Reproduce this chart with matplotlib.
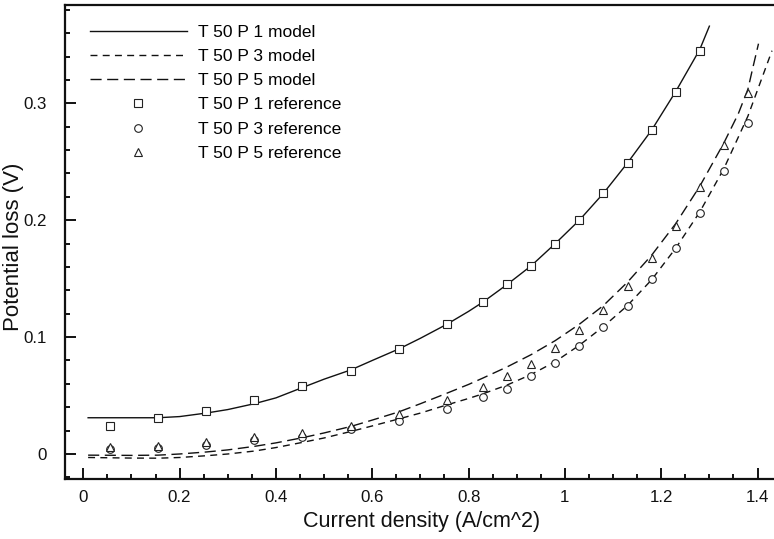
import matplotlib
matplotlib.use("Agg")
import matplotlib.pyplot as plt
from matplotlib.ticker import MultipleLocator, FixedLocator, FixedFormatter

plt.rcParams['font.family'] = ['Liberation Sans', 'DejaVu Sans']
plt.rcParams['lines.scale_dashes'] = False

# Reference measurements (current density in A/cm^2, potential loss in V)
x_ref = [0.055, 0.155, 0.255, 0.355, 0.455, 0.555, 0.655, 0.755, 0.83, 0.88,
         0.93, 0.98, 1.03, 1.08, 1.13, 1.18, 1.23, 1.28, 1.33, 1.38]
p1_ref = [0.024, 0.031, 0.037, 0.046, 0.058, 0.071, 0.090, 0.111, 0.130, 0.145,
          0.161, 0.180, 0.200, 0.223, 0.249, 0.277, 0.310, 0.345]
p3_ref = [0.004, 0.005, 0.008, 0.012, 0.0145, 0.021, 0.028, 0.0385, 0.049, 0.056,
          0.067, 0.078, 0.092, 0.109, 0.127, 0.150, 0.176, 0.206, 0.242, 0.283]
p5_ref = [0.006, 0.007, 0.010, 0.0145, 0.018, 0.024, 0.034, 0.046, 0.057, 0.067,
          0.077, 0.091, 0.106, 0.123, 0.144, 0.168, 0.195, 0.228, 0.264, 0.309]

# Model curves
p1_mod_x = [0.01, 0.1, 0.155, 0.2, 0.255, 0.3, 0.355, 0.4, 0.456, 0.5, 0.556, 0.6,
            0.656, 0.7, 0.755, 0.8, 0.83, 0.88, 0.93, 0.98, 1.03, 1.08, 1.13,
            1.18, 1.23, 1.28, 1.30]
p1_mod_y = [0.031, 0.031, 0.031, 0.032, 0.035, 0.038, 0.043, 0.048, 0.057, 0.064,
            0.072, 0.080, 0.090, 0.099, 0.111, 0.122, 0.130, 0.145, 0.161, 0.180,
            0.200, 0.223, 0.249, 0.277, 0.310, 0.346, 0.366]

p3_mod_x = [0.01, 0.1, 0.155, 0.2, 0.255, 0.3, 0.355, 0.4, 0.456, 0.5, 0.555, 0.6,
            0.655, 0.7, 0.755, 0.8, 0.83, 0.88, 0.93, 0.98, 1.03, 1.08, 1.13,
            1.18, 1.23, 1.28, 1.33, 1.38, 1.43]
p3_mod_y = [-0.003, -0.0035, -0.0036, -0.003, -0.0015, 0.0, 0.0025, 0.0055, 0.010,
            0.0137, 0.0192, 0.024, 0.030, 0.035, 0.042, 0.0475, 0.0515, 0.059, 0.068,
            0.079, 0.093, 0.109, 0.127, 0.149, 0.176, 0.207, 0.244, 0.289, 0.345]

p5_mod_x = [0.01, 0.1, 0.155, 0.2, 0.255, 0.3, 0.355, 0.4, 0.456, 0.5, 0.555, 0.6,
            0.655, 0.7, 0.755, 0.8, 0.83, 0.88, 0.93, 0.98, 1.03, 1.08, 1.13,
            1.18, 1.23, 1.28, 1.33, 1.36, 1.38, 1.39, 1.402]
p5_mod_y = [-0.001, -0.0012, -0.001, 0.0, 0.0017, 0.0035, 0.0065, 0.0095, 0.014,
            0.018, 0.0235, 0.029, 0.036, 0.043, 0.052, 0.0595, 0.065, 0.0745, 0.085,
            0.097, 0.111, 0.127, 0.147, 0.170, 0.197, 0.229, 0.266, 0.291, 0.312,
            0.330, 0.351]

x_ticks = [0, 0.2, 0.4, 0.6, 0.8, 1.0, 1.2, 1.4]
x_tick_labels = ["0", "0.2", "0.4", "0.6", "0.8", "1", "1.2", "1.4"]
y_ticks = [0, 0.1, 0.2, 0.3]
y_tick_labels = ["0", "0.1", "0.2", "0.3"]

fig = plt.figure(figsize=(7.74, 5.39), dpi=100)
ax = fig.add_axes([65 / 774, 60 / 539, 713 / 774, 474 / 539])

ink = "#111111"
ax.plot(p1_mod_x, p1_mod_y, color=ink, lw=1.0, ls="-", label="T 50 P 1 model")
ax.plot(p3_mod_x, p3_mod_y, color=ink, lw=1.0, dashes=(5.0, 3.8), label="T 50 P 3 model")
ax.plot(p5_mod_x, p5_mod_y, color=ink, lw=1.0, dashes=(8.0, 4.0), label="T 50 P 5 model")

mk = dict(ls="none", mfc="white", mec="#222222", mew=0.8)
ax.plot(x_ref[:len(p1_ref)], p1_ref, marker="s", ms=5.2, label="T 50 P 1 reference", **mk)
ax.plot(x_ref, p3_ref, marker="o", ms=5.5, label="T 50 P 3 reference", **mk)
ax.plot(x_ref, p5_ref, marker="^", ms=6.0, label="T 50 P 5 reference", **mk)

ax.set_xlim(-0.038, 1.4425)
ax.set_ylim(-0.0214, 0.3841)

ax.xaxis.set_major_locator(FixedLocator(x_ticks))
ax.xaxis.set_major_formatter(FixedFormatter(x_tick_labels))
ax.yaxis.set_major_locator(FixedLocator(y_ticks))
ax.yaxis.set_major_formatter(FixedFormatter(y_tick_labels))
ax.xaxis.set_minor_locator(MultipleLocator(0.05))
ax.yaxis.set_minor_locator(MultipleLocator(0.02))

ax.tick_params(which="both", direction="in", width=1.4, colors=ink)
ax.tick_params(which="major", length=8, labelsize=12.2)
ax.tick_params(which="minor", length=3.8)
ax.tick_params(axis="x", which="major", pad=8)
ax.tick_params(axis="y", which="major", pad=13)

for side in ("left", "bottom", "top"):
    ax.spines[side].set_linewidth(1.6)
    ax.spines[side].set_color(ink)
ax.spines["right"].set_visible(False)

ax.set_xlabel("Current density (A/cm^2)", fontsize=15.5, color=ink, labelpad=4)
ax.set_ylabel("Potential loss (V)", fontsize=16, color=ink)
ax.yaxis.set_label_coords(-0.058, 0.49)

ax.legend(loc="upper left", bbox_to_anchor=(0.003, 1.006), frameon=False,
          fontsize=12.5, handlelength=5.6, handletextpad=0.62,
          labelspacing=0.52, numpoints=1, borderaxespad=0.9, borderpad=0.4)

fig.savefig("out.png", dpi=100)
